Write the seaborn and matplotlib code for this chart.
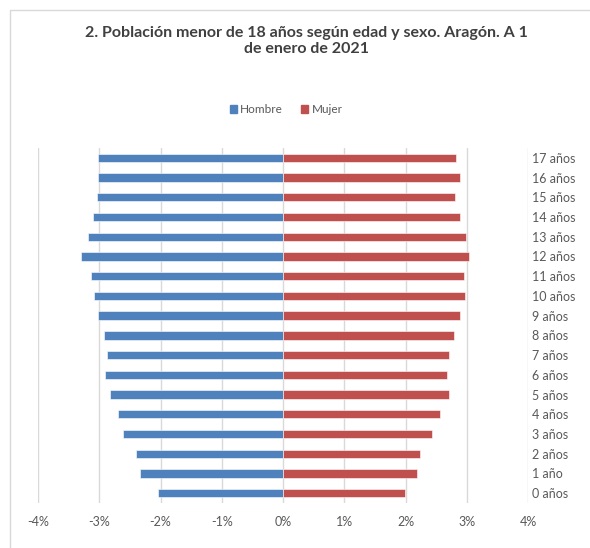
import numpy as np
import pandas as pd
import matplotlib
matplotlib.use("Agg")
import matplotlib.pyplot as plt
from matplotlib.patches import Rectangle
from matplotlib.ticker import FuncFormatter
import seaborn as sns

# edades de 17 (arriba) a 0 (abajo)
edades = ["17 años", "16 años", "15 años", "14 años", "13 años", "12 años",
          "11 años", "10 años", "9 años", "8 años", "7 años", "6 años",
          "5 años", "4 años", "3 años", "2 años", "1 año", "0 años"]
# porcentaje sobre el total (hombres en negativo)
hombre = [-3.02, -3.02, -3.04, -3.11, -3.18, -3.30, -3.14, -3.08, -3.02,
          -2.92, -2.88, -2.90, -2.82, -2.70, -2.61, -2.40, -2.34, -2.04]
mujer = [2.83, 2.89, 2.80, 2.89, 2.99, 3.03, 2.95, 2.97, 2.89,
         2.79, 2.71, 2.68, 2.71, 2.56, 2.44, 2.24, 2.18, 1.99]
sexos = ["Hombre", "Mujer"]
colores = ["#4F81BD", "#C0504D"]
ticks_x = [-4, -3, -2, -1, 0, 1, 2, 3, 4]

df = pd.DataFrame({
    "edad": edades * 2,
    "sexo": ["Hombre"] * len(edades) + ["Mujer"] * len(edades),
    "valor": hombre + mujer,
})

sns.set_style("white")
plt.rcParams["font.family"] = ["Lato", "DejaVu Sans"]

fig = plt.figure(figsize=(5.9, 5.48), dpi=100)
ax = fig.add_axes([38 / 590, 45 / 548, 490 / 590, 355 / 548])

sns.barplot(data=df, x="valor", y="edad", hue="sexo", order=edades,
            hue_order=sexos, palette=colores, saturation=1, dodge=False,
            width=0.42, orient="h", ax=ax, legend=False,
            edgecolor="white", linewidth=0.4)

ax.set_xlim(-4, 4)
ax.set_xticks(ticks_x)
ax.xaxis.set_major_formatter(FuncFormatter(lambda v, p: f"{v:.0f}%"))
ax.grid(axis="x", color="#d9d9d9", linewidth=1)
ax.set_axisbelow(True)
ax.yaxis.tick_right()
ax.tick_params(axis="both", length=0, labelsize=9, colors="#595959")
ax.tick_params(axis="y", pad=3)
ax.tick_params(axis="x", pad=9)
ax.set_xlabel("")
ax.set_ylabel("")
for s in ax.spines.values():
    s.set_visible(False)

handles = [plt.Rectangle((0, 0), 1, 1, color=c) for c in colores]
fig.legend(handles, sexos, loc="center", bbox_to_anchor=(0.485, 0.80), ncol=2,
           frameon=False, fontsize=8.5, handlelength=0.6, handleheight=0.6,
           handletextpad=0.3, columnspacing=1.5, labelcolor="#595959")

fig.text(0.52, 0.925, "2. Población menor de 18 años según edad y sexo. Aragón. A 1\nde enero de 2021",
         ha="center", va="center", fontsize=11.5, fontweight="bold", color="#404040",
         linespacing=1.25)

fig.patches.append(Rectangle((10 / 590, -0.1), 1.2, 1 - 10 / 548 + 0.1,
                             transform=fig.transFigure, fill=False,
                             edgecolor="#d9d9d9", linewidth=1))

fig.savefig("out.png", dpi=100)
